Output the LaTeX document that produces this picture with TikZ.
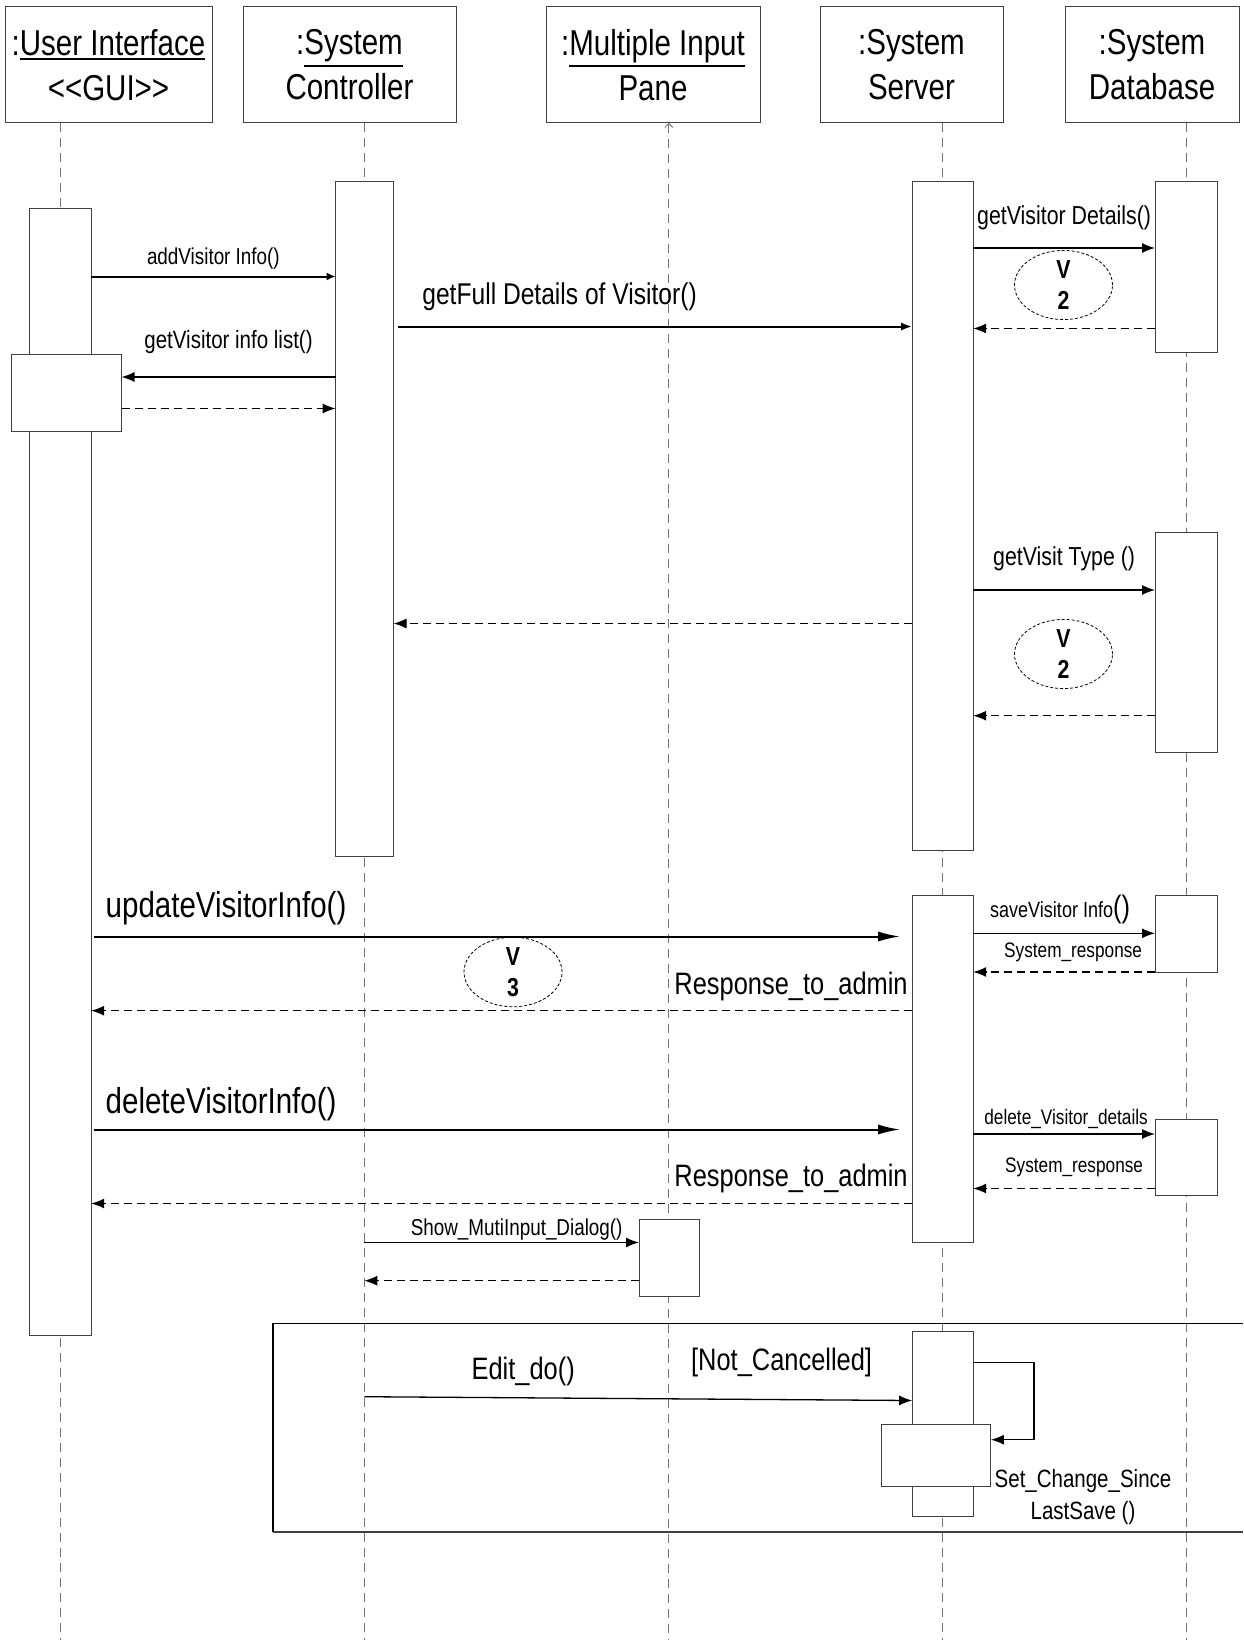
\documentclass[tikz,border=0pt]{standalone}
\usepackage{fontspec}
\setmainfont{Liberation Sans}[FakeStretch=0.82]
\usepackage{tikz}
\usetikzlibrary{positioning,arrows.meta,shapes.geometric}
\usepackage{xcolor}
\definecolor{boxgray}{gray}{0.25}
\definecolor{lifegray}{gray}{0.45}
\newcommand{\fsz}[1]{\fontsize{#1}{#1}\selectfont}
\newcommand{\hdul}[1]{\vtop{\hbox{#1}\kern2.5pt\hrule height 2.2pt}}
\tikzset{
	head/.style={draw=boxgray, line width=1pt, minimum height=116pt, inner sep=0pt, align=center, font=\fontsize{36}{45}\selectfont},
	lifeline/.style={draw=lifegray, line width=1pt, dash pattern=on 9pt off 6pt},
	bar/.style={draw=boxgray, fill=white, line width=1pt, minimum width=60pt, inner sep=0pt, outer sep=0pt},
	msg/.style={line width=1.3pt, -{Latex[length=13pt,width=10pt]}},
	bigmsg/.style={line width=2pt, -{Latex[length=22pt,width=10pt]}, shorten <=3pt, shorten >=12pt},
	reply/.style={line width=1.1pt, dash pattern=on 8pt off 5pt, -{Latex[length=13pt,width=10pt]}},
	vnote/.style={ellipse, draw, line width=0.8pt, dash pattern=on 3pt off 2pt, minimum width=98pt, minimum height=60pt, inner sep=0pt, align=center, font=\bfseries\fontsize{26}{31}\selectfont},
	lbl/.style={inner sep=0pt, font=\fsz{#1}}
}

\begin{document}
\begin{tikzpicture}[x=1pt, y=-1pt]
	\useasboundingbox (0,0) rectangle (1243,1640);

	\node[head, minimum width=207pt] (ui) at (108.5,64.7) {:\hdul{User Interface}\\<\kern0pt<GUI>\kern0pt>};
	\node[head, minimum width=213pt] (ctrl) at (349.5,64.7) {:\hdul{System}\\Controller};
	\node[head, minimum width=214pt] (pane) at (653,64.7) {:\hdul{Multiple Input}\\Pane};
	\node[head, minimum width=183pt] (srv) at (911.5,64.7) {:System\\Server};
	\node[head, minimum width=174pt] (db) at (1152,64.7) {:System\\Database};

	\coordinate (uiL) at (60.7,122.7);
	\coordinate (ctrlL) at (364.3,122.7);
	\coordinate (paneL) at (668.8,122.7);
	\coordinate (srvL) at (942,122.7);
	\coordinate (dbL) at (1186,122.7);
	\draw[lifeline] (uiL) -- (uiL |- 0,1640);
	\draw[lifeline] (ctrlL) -- (ctrlL |- 0,1640);
	\draw[lifeline, {Straight Barb[length=4pt,width=8pt]}-] (paneL) -- (paneL |- 0,1640);
	\draw[lifeline] (srvL) -- (srvL |- 0,1640);
	\draw[lifeline] (dbL) -- (dbL |- 0,1640);

	\node[bar, minimum width=62pt, minimum height=1127pt] (uibar) at (60.2,771.5) {};
	\node[bar, minimum width=110pt, minimum height=77pt] (uibox) at (66.5,393) {};
	\node[bar, minimum width=58pt, minimum height=674pt] (ctrlbar) at (364.6,519) {};
	\node[bar, minimum width=61pt, minimum height=668pt] (srvbarA) at (942.7,516) {};
	\node[bar, minimum width=62pt, minimum height=170pt] (dbbarA) at (1186,267) {};
	\node[bar, minimum width=62pt, minimum height=219.5pt] (dbbarB) at (1186,642.25) {};
	\node[bar, minimum width=61pt, minimum height=346.5pt] (srvbarB) at (942.7,1068.75) {};
	\node[bar, minimum width=62pt, minimum height=76.5pt] (dbbarC) at (1186,933.75) {};
	\node[bar, minimum width=62pt, minimum height=76pt] (dbbarD) at (1186,1157) {};
	\node[bar, minimum width=60pt, minimum height=77pt] (panebar) at (669,1258) {};
	\node[bar, minimum width=61pt, minimum height=185pt] (srvbarC) at (942.7,1424) {};
	\node[bar, minimum width=109pt, minimum height=62pt] (srvbox) at (936.4,1455) {};

	\draw[msg, line width=2pt, -{Latex[length=9pt,width=8pt]}] (uibar.east |- 0,276.5) -- (ctrlbar.west |- 0,276.5) node[lbl=23, midway, yshift=18pt] {addVisitor Info()};
	\draw[msg, line width=2pt, -{Latex[length=11pt,width=8pt]}, shorten <=4pt] (ctrlbar.east |- 0,326.5) -- (srvbarA.west |- 0,326.5) node[lbl=30, pos=0.32, yshift=30pt] {getFull Details of Visitor()};
	\draw[msg] (ctrlbar.west |- 0,377) -- (uibox.east |- 0,377) node[lbl=25, midway, yshift=35pt] {getVisitor info list()};
	\draw[reply] (uibox.east |- 0,408.5) -- (ctrlbar.west |- 0,408.5);

	\draw[msg] (srvbarA.east |- 0,248) -- (dbbarA.west |- 0,248) node[lbl=26, midway, yshift=30pt] {getVisitor Details()};
	\node[vnote] (vtwoA) at (1063.5,285) {V\\2};
	\draw[reply] (dbbarA.west |- 0,328.5) -- (srvbarA.east |- 0,328.5);

	\draw[msg] (srvbarA.east |- 0,590) -- (dbbarB.west |- 0,590) node[lbl=26, midway, yshift=31pt] {getVisit Type ()};
	\draw[reply] (srvbarA.west |- 0,623.5) -- (ctrlbar.east |- 0,623.5);
	\node[vnote] (vtwoB) at (1063.5,654) {V\\2};
	\draw[reply] (dbbarB.west |- 0,715.7) -- (srvbarA.east |- 0,715.7);

	\draw[bigmsg] (uibar.east |- 0,936.5) -- (srvbarB.west |- 0,936.5) node[lbl=36, pos=0, anchor=west, xshift=13.5pt, yshift=28pt] {updateVisitorInfo()};
	\node[vnote] (vthree) at (513,972) {V\\3};
	\draw[reply] (srvbarB.west |- 0,1010.7) -- (uibar.east |- 0,1010.7) node[lbl=31, pos=0, anchor=east, xshift=-4pt, yshift=24pt] {Response\_to\_admin};
	\draw[msg] (srvbarB.east |- 0,933.3) -- (dbbarC.west |- 0,933.3) node[lbl=22, midway, xshift=-4pt, yshift=24pt] {saveVisitor Info{\fsz{31}()}};
	\draw[reply] (dbbarC.west |- 0,972) -- (srvbarB.east |- 0,972) node[lbl=21, midway, xshift=9pt, yshift=20pt] {System\_response};

	\draw[bigmsg] (uibar.east |- 0,1129.5) -- (srvbarB.west |- 0,1129.5) node[lbl=36, pos=0, anchor=west, xshift=13.5pt, yshift=25.5pt] {deleteVisitorInfo()};
	\draw[msg] (srvbarB.east |- 0,1134) -- (dbbarD.west |- 0,1134) node[lbl=21, midway, xshift=2pt, yshift=15pt] {delete\_Visitor\_details};
	\draw[reply] (dbbarD.west |- 0,1188.5) -- (srvbarB.east |- 0,1188.5) node[lbl=21, midway, xshift=10pt, yshift=21pt] {System\_response};
	\draw[reply] (srvbarB.west |- 0,1203.5) -- (uibar.east |- 0,1203.5) node[lbl=31, pos=0, anchor=east, xshift=-4pt, yshift=25.5pt] {Response\_to\_admin};

	\draw[msg] (ctrlL |- 0,1242.5) -- (panebar.west |- 0,1242.5) node[lbl=23, midway, xshift=15pt, yshift=12.5pt] {Show\_MutiInput\_Dialog()};
	\draw[reply] (panebar.west |- 0,1280.7) -- (ctrlL |- 0,1280.7);

	\coordinate (frameNW) at (273,1323.6);
	\coordinate (frameSW) at (273,1531.8);
	\draw[line width=1.5pt] (frameNW -| 0,0) ++(1243,0) -- (frameNW) -- (frameSW);
	\draw[boxgray, line width=2pt] (frameSW) -- (frameSW -| 1243,0);

	\draw[msg] (ctrlL |- 0,1396.7) -- (srvbarC.west |- 0,1400.5) node[lbl=31, pos=0.29, yshift=26pt] {Edit\_do()};
	\node[lbl=31] (guard) at (781.6,1362.3) {[Not\_Cancelled]};
	\draw[msg] (srvbarC.east |- 0,1362.3) -- ++(60.7,0) |- (srvbox.east |- 0,1439.7);
	\node[lbl=25, align=center, font=\fontsize{25}{32}\selectfont] (selflbl) at (1083,1497) {Set\_Change\_Since\\LastSave ()};

\end{tikzpicture}
\end{document}
